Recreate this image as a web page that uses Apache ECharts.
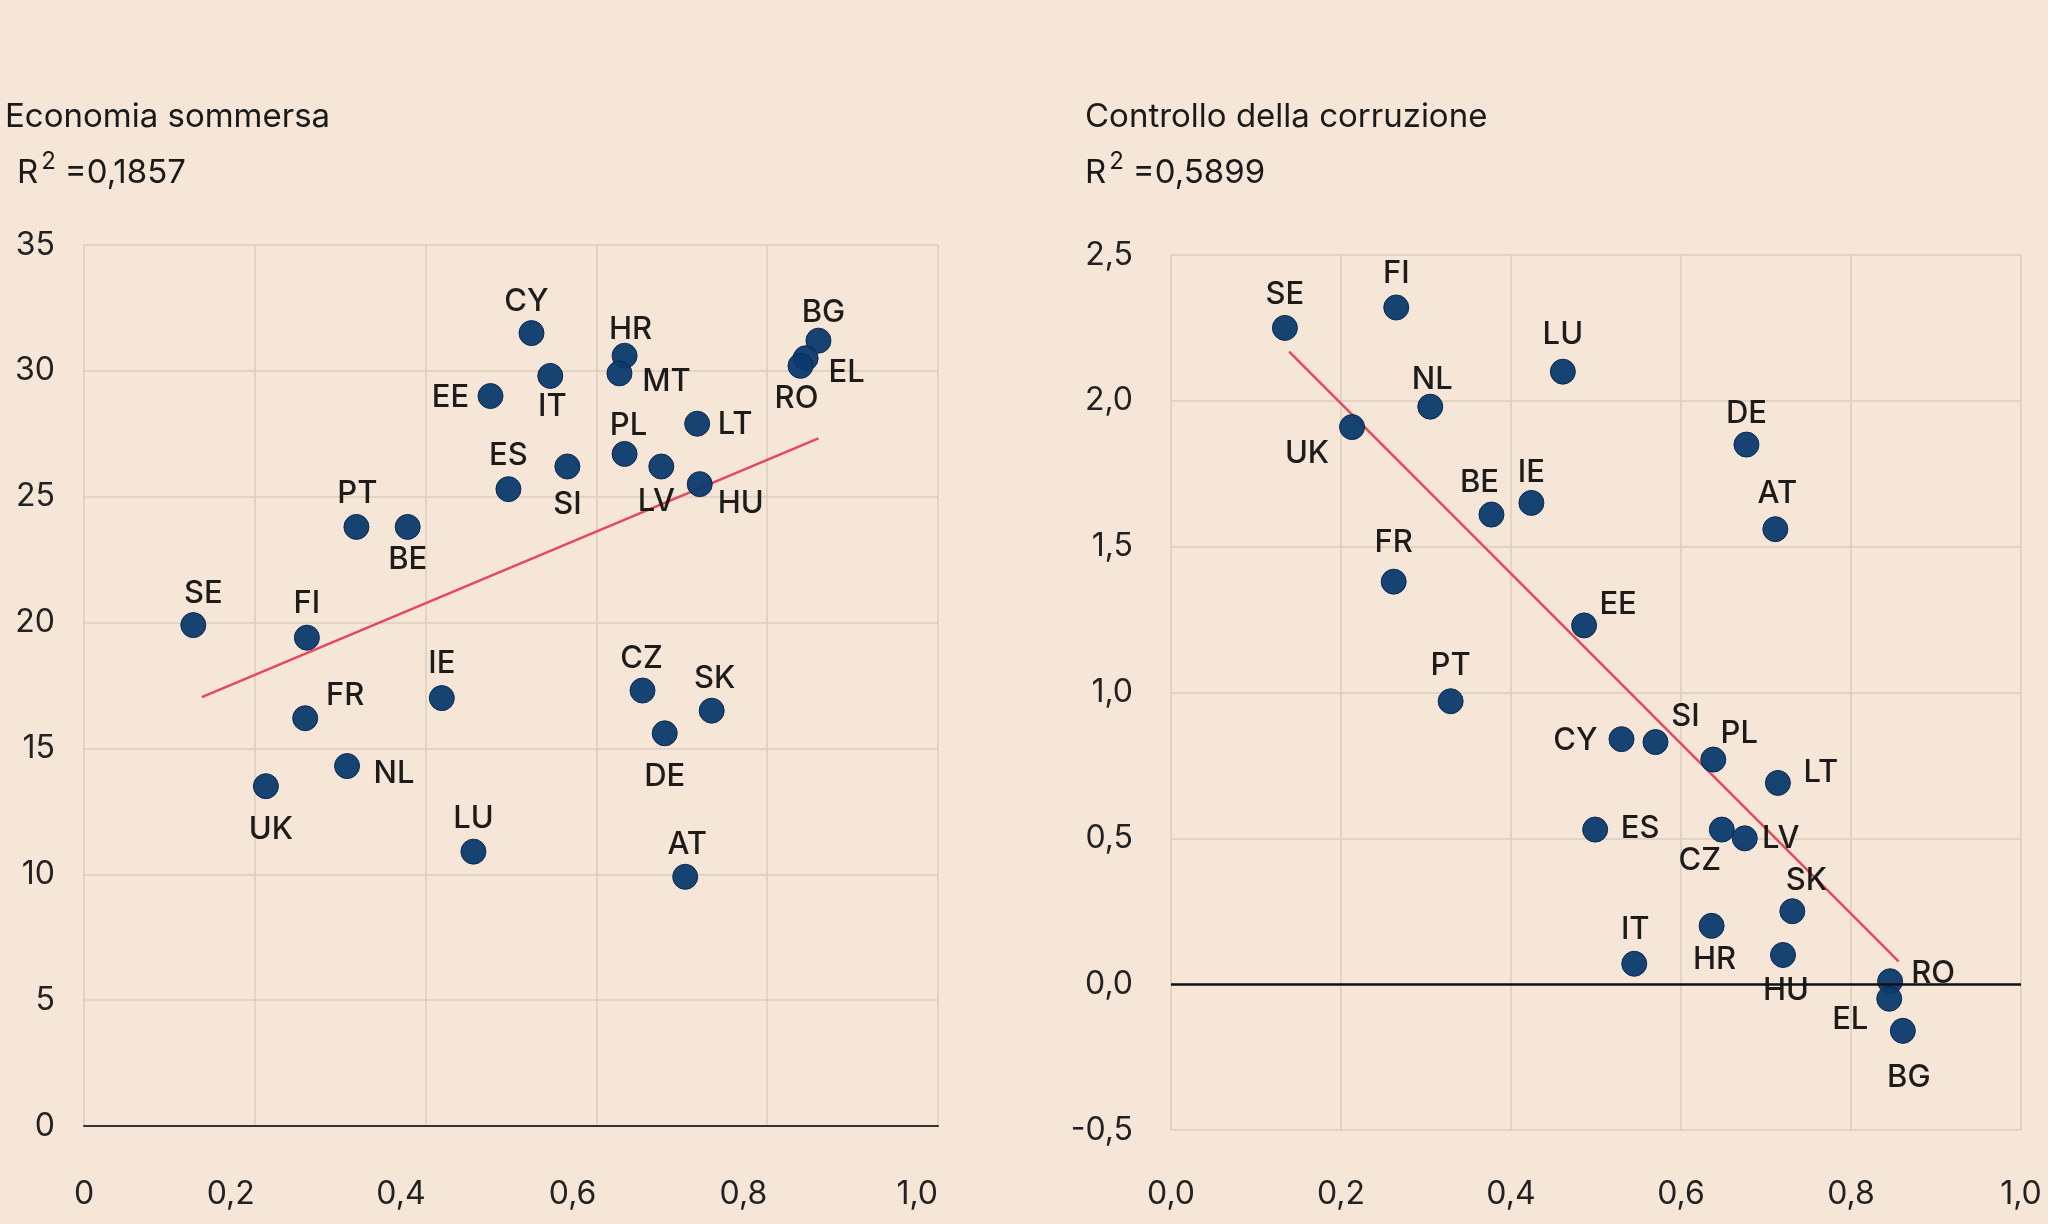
<!DOCTYPE html>
<html>
<head>
<meta charset="utf-8">
<script src="https://cdn.jsdelivr.net/npm/echarts@6/dist/echarts.min.js"></script>
<style>
html, body { margin: 0; padding: 0; background: #f5e6d7; }
#chart { width: 2048px; height: 1224px; }
</style>
</head>
<body>
<div id="chart"></div>
<script>
// Economia sommersa
var leftCountries = ['SE','FI','PT','BE','CY','EE','IT','HR','MT','BG','EL','RO','LT','PL','LV','SI','HU','ES','IE','CZ','SK','FR','NL','UK','LU','DE','AT'];
var leftX = [0.128,0.261,0.319,0.379,0.524,0.476,0.546,0.633,0.627,0.860,0.845,0.839,0.718,0.633,0.676,0.566,0.721,0.497,0.419,0.654,0.735,0.259,0.308,0.213,0.456,0.680,0.704];
var leftY = [19.9,19.4,23.8,23.8,31.5,29.0,29.8,30.6,29.9,31.2,30.5,30.2,27.9,26.7,26.2,26.2,25.5,25.3,17.0,17.3,16.5,16.2,14.3,13.5,10.9,15.6,9.9];
var leftR2 = '0,1857';
var leftSlope = 14.24, leftIntercept = 15.07, leftTrendX = [0.138, 0.860];

// Controllo della corruzione
var rightCountries = ['SE','FI','LU','NL','UK','DE','IE','BE','AT','FR','EE','PT','CY','SI','PL','LT','ES','CZ','LV','SK','HR','HU','IT','RO','EL','BG'];
var rightX = [0.134,0.265,0.461,0.305,0.213,0.677,0.424,0.377,0.711,0.262,0.486,0.329,0.530,0.570,0.638,0.714,0.499,0.648,0.675,0.731,0.636,0.720,0.545,0.846,0.845,0.861];
var rightY = [2.25,2.32,2.10,1.98,1.91,1.85,1.65,1.61,1.56,1.38,1.23,0.97,0.84,0.83,0.77,0.69,0.53,0.53,0.50,0.25,0.20,0.10,0.07,0.01,-0.05,-0.16];
var rightR2 = '0,5899';
var rightSlope = -2.916, rightIntercept = 2.574, rightTrendX = [0.139, 0.856];

// label placement around the dots (px)
var leftLabelOffset = {
	SE: [10, -31], FI: [0, -34], PT: [1, -33], BE: [0, 33], CY: [-5, -31], EE: [-40, 2],
	IT: [2, 31], HR: [6, -26], MT: [47, 8], BG: [5, -28], EL: [41, 14], RO: [-4, 33],
	LT: [38, 1], PL: [4, -28], LV: [-5, 35], SI: [0, 38], HU: [41, 20], ES: [0, -33],
	IE: [0, -34], CZ: [-1, -32], SK: [3, -32], FR: [40, -23], NL: [47, 8], UK: [5, 44],
	LU: [0, -33], DE: [0, 43], AT: [2, -32]
};
var rightLabelOffset = {
	SE: [0, -33], FI: [0, -34], LU: [0, -37], NL: [2, -27], UK: [-45, 27], DE: [0, -31],
	IE: [0, -30], BE: [-12, -32], AT: [2, -35], FR: [0, -39], EE: [34, -21], PT: [0, -36],
	CY: [-46, 2], SI: [30, -25], PL: [26, -26], LT: [43, -10], ES: [45, -1], CZ: [-22, 31],
	LV: [36, 0], SK: [14, -31], HR: [3, 34], HU: [3, 36], IT: [1, -34], RO: [43, -8],
	EL: [-39, 21], BG: [6, 47]
};

var fontName = 'Inter';
var gridColor = '#dccdbd';
var dotColor = '#0b3a6e';
var trendColor = '#e5485c';

function buildPoints(names, xs, ys, offsets) {
	var pts = [];
	for (var i = 0; i < names.length; i++) {
		pts.push({
			name: names[i],
			value: [xs[i], ys[i]],
			label: { offset: offsets[names[i]] || [0, -32] }
		});
	}
	return pts;
}

function buildTrend(slope, intercept, xr) {
	return [
		[xr[0], intercept + slope * xr[0]],
		[xr[1], intercept + slope * xr[1]]
	];
}

function r2Text(v) {
	return '{r|R}{s|2}{r|=' + v + '}';
}

var r2Rich = {
	r: { fontFamily: fontName, fontSize: 33, fontWeight: 'normal', color: '#1a1a1a', lineHeight: 40, verticalAlign: 'bottom' },
	s: { fontFamily: fontName, fontSize: 24, fontWeight: 'normal', color: '#1a1a1a', lineHeight: 34, verticalAlign: 'top', padding: [0, 9, 0, 3] }
};

var scatterLabel = {
	show: true,
	position: 'inside',
	formatter: '{b}',
	fontFamily: fontName,
	fontSize: 31,
	fontWeight: 500,
	color: '#111'
};

var axisText = { fontFamily: fontName, fontSize: 32, color: '#222' };

var chart = echarts.init(document.getElementById('chart'));
var option = {
	backgroundColor: '#f5e6d7',
	animation: false,
	title: [
		{ text: 'Economia sommersa', left: 0, top: 96, textStyle: { fontFamily: fontName, fontSize: 33, fontWeight: 'normal', color: '#1a1a1a' } },
		{ text: r2Text(leftR2), left: 12, top: 145, textStyle: { fontWeight: 'normal', rich: r2Rich } },
		{ text: 'Controllo della corruzione', left: 1080, top: 96, textStyle: { fontFamily: fontName, fontSize: 33, fontWeight: 'normal', color: '#1a1a1a' } },
		{ text: r2Text(rightR2), left: 1080, top: 145, textStyle: { fontWeight: 'normal', rich: r2Rich } }
	],
	grid: [
		{ left: 84, right: 1110, top: 245, bottom: 98 },
		{ left: 1171, right: 27, top: 255, bottom: 94 }
	],
	xAxis: [
		{
			gridIndex: 0, type: 'value', min: 0, max: 1, interval: 0.2,
			axisLine: { show: true, onZero: false, lineStyle: { color: '#333', width: 2 } },
			axisTick: { show: false },
			splitLine: { show: true, lineStyle: { color: gridColor, width: 1.5 } },
			axisLabel: Object.assign({
				margin: 52, align: 'right', alignMinLabel: 'center',
				formatter: function (v) { return v === 0 ? '0' : v.toFixed(1).replace('.', ','); }
			}, axisText)
		},
		{
			gridIndex: 1, type: 'value', min: 0, max: 1, interval: 0.2,
			axisLine: { show: false, onZero: false },
			axisTick: { show: false },
			splitLine: { show: true, lineStyle: { color: gridColor, width: 1.5 } },
			axisLabel: Object.assign({
				margin: 48,
				formatter: function (v) { return v.toFixed(1).replace('.', ','); }
			}, axisText)
		}
	],
	yAxis: [
		{
			gridIndex: 0, type: 'value', min: 0, max: 35, interval: 5,
			axisLine: { show: false },
			axisTick: { show: false },
			splitLine: { show: true, lineStyle: { color: gridColor, width: 1.5 } },
			axisLabel: Object.assign({ margin: 29 }, axisText)
		},
		{
			gridIndex: 1, type: 'value', min: -0.5, max: 2.5, interval: 0.5,
			axisLine: { show: false },
			axisTick: { show: false },
			splitLine: { show: true, lineStyle: { color: gridColor, width: 1.5 } },
			axisLabel: Object.assign({
				margin: 38,
				formatter: function (v) { return v.toFixed(1).replace('.', ','); }
			}, axisText)
		}
	],
	series: [
		{
			type: 'line', xAxisIndex: 0, yAxisIndex: 0, z: 2,
			data: buildTrend(leftSlope, leftIntercept, leftTrendX),
			symbol: 'none', lineStyle: { color: trendColor, width: 2.5 }
		},
		{
			type: 'line', xAxisIndex: 1, yAxisIndex: 1, z: 2,
			data: buildTrend(rightSlope, rightIntercept, rightTrendX),
			symbol: 'none', lineStyle: { color: trendColor, width: 2.5 },
			markLine: {
				silent: true, symbol: 'none', label: { show: false },
				lineStyle: { color: '#111', width: 2.5, type: 'solid' },
				data: [{ yAxis: 0 }]
			}
		},
		{
			type: 'scatter', xAxisIndex: 0, yAxisIndex: 0, z: 3,
			symbolSize: 25,
			itemStyle: { color: dotColor, opacity: 0.95, borderColor: '#06264d', borderWidth: 1 },
			label: scatterLabel,
			data: buildPoints(leftCountries, leftX, leftY, leftLabelOffset)
		},
		{
			type: 'scatter', xAxisIndex: 1, yAxisIndex: 1, z: 3,
			symbolSize: 25,
			itemStyle: { color: dotColor, opacity: 0.95, borderColor: '#06264d', borderWidth: 1 },
			label: scatterLabel,
			data: buildPoints(rightCountries, rightX, rightY, rightLabelOffset)
		}
	]
};
chart.setOption(option);
</script>
</body>
</html>
